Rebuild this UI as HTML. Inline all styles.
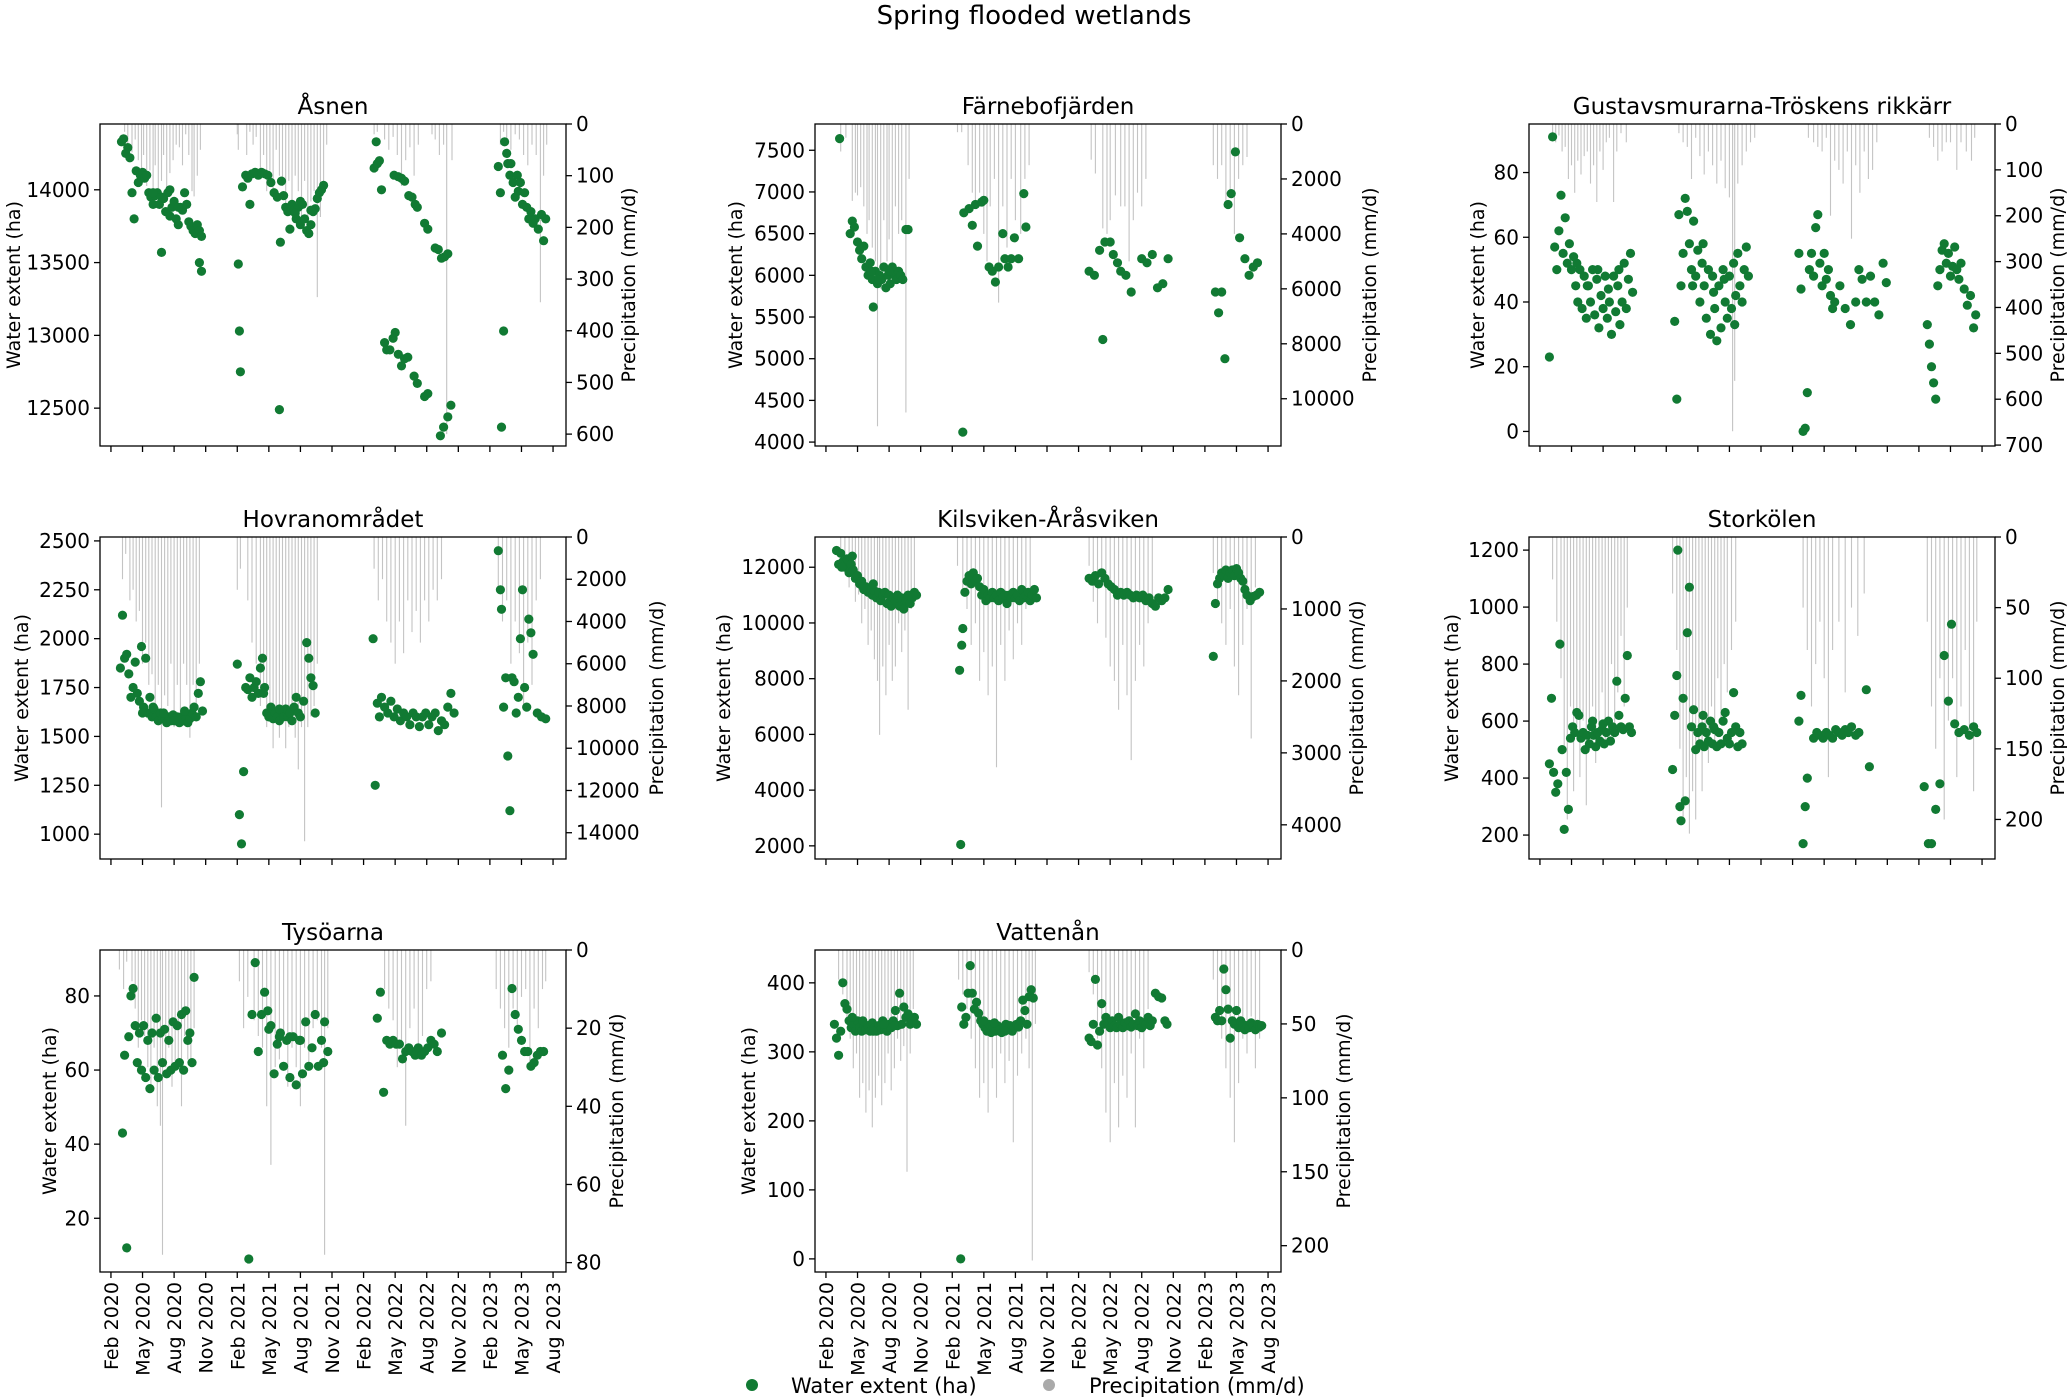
<!DOCTYPE html>
<html><head><meta charset="utf-8"><title>Spring flooded wetlands</title>
<style>
html,body{margin:0;padding:0;background:#fff;}
svg{display:block;font-family:"DejaVu Sans","Liberation Sans",sans-serif;}
</style></head>
<body>
<svg id="chart" width="2067" height="1397" viewBox="0 0 2067 1397" xmlns="http://www.w3.org/2000/svg">
<text x="1034" y="24" text-anchor="middle" font-size="26">Spring flooded wetlands</text>
<g>
<circle cx="752" cy="1385" r="6" fill="#117a33"/>
<text x="791" y="1393" font-size="21">Water extent (ha)</text>
<circle cx="1049" cy="1385" r="6" fill="#aaaaaa"/>
<text x="1089" y="1393" font-size="21">Precipitation (mm/d)</text>
</g>
</svg>
<script>
// ---- date axis (months since Jan 2020) ----
const dateTickMonths = [1,4,7,10,13,16,19,22,25,28,31,34,37,40,43];
const dateTickLabels = ["Feb 2020","May 2020","Aug 2020","Nov 2020","Feb 2021","May 2021","Aug 2021","Nov 2021","Feb 2022","May 2022","Aug 2022","Nov 2022","Feb 2023","May 2023","Aug 2023"];
const monthDomain = [-0.04, 44.23];

// ---- Åsnen ----
const asnenExtent = [[2.0,14330],[2.2,14350],[2.4,14250],[2.6,14290],[2.8,14220],[3.0,13980],[3.2,13800],[3.4,14130],[3.6,14050],[3.8,14100],[4.0,14120],[4.2,14080],[4.4,14100],[4.6,13980],[4.8,13950],[5.0,13900],[5.2,13960],[5.4,13980],[5.6,13900],[5.8,13570],[6.0,13940],[6.2,13850],[6.4,13980],[6.6,14000],[6.8,13880],[7.0,13920],[7.2,13800],[7.4,13760],[7.6,13880],[7.8,13860],[8.0,13980],[8.2,13900],[8.4,13780],[8.6,13750],[8.8,13720],[9.0,13700],[9.2,13760],[9.4,13720],[9.6,13680],[9.4,13500],[9.6,13440],[5.0,13980],[5.8,13950],[6.6,13820],[7.4,13880],
[13.1,13490],[13.2,13030],[13.3,12750],[13.5,14020],[13.8,14100],[14.0,14080],[14.2,13900],[14.4,14110],[14.7,14120],[15.0,14100],[15.3,14120],[15.6,14110],[15.9,14100],[16.2,14050],[16.5,13980],[16.8,13950],[17.0,12490],[17.1,13640],[17.2,14060],[17.4,13960],[17.6,13880],[17.8,13850],[18.0,13730],[18.2,13900],[18.4,13860],[18.6,13800],[18.8,13880],[19.0,13760],[19.2,13900],[19.4,13800],[19.6,13720],[19.8,13700],[20.0,13760],[20.2,13850],[20.4,13870],[20.6,13940],[20.8,13980],[21.0,14000],[21.2,14030],[19.0,13920],[20.0,13860],[18.5,13840],
[26.0,14150],[26.2,14330],[26.3,14180],[26.5,14200],[26.7,14000],[27.0,12950],[27.2,12900],[27.5,12900],[27.8,12980],[28.0,13020],[27.9,14100],[28.3,14090],[28.6,14080],[28.9,14060],[28.3,12870],[28.6,12790],[28.9,12840],[29.2,12850],[29.3,13960],[29.6,13950],[29.9,13900],[30.1,13880],[29.8,12720],[30.1,12670],[30.8,13770],[31.1,13730],[30.8,12580],[31.1,12600],[31.8,13600],[32.1,13590],[32.4,13530],[32.7,13540],[33.0,13560],[32.3,12310],[32.6,12370],[33.0,12440],[33.3,12520],
[37.8,14160],[38.0,13980],[38.1,12370],[38.3,13030],[38.4,14330],[38.6,14250],[38.7,14180],[38.9,14100],[39.0,14180],[39.2,14050],[39.4,13950],[39.6,14100],[39.7,13990],[39.9,14050],[40.1,13900],[40.3,13980],[40.5,13880],[40.7,13800],[40.9,13850],[41.1,13770],[41.3,13800],[41.6,13730],[41.9,13830],[42.1,13650],[42.3,13800]];
const asnenPrecip = [[2.3,15],[2.6,40],[3.0,55],[3.3,30],[3.6,70],[3.9,100],[4.1,60],[4.4,120],[4.7,90],[5.0,130],[5.2,80],[5.5,140],[5.8,110],[6.0,60],[6.3,125],[6.6,95],[6.9,70],[7.2,40],[7.5,45],[7.8,80],[8.1,20],[8.4,60],[8.7,130],[8.9,140],[9.2,100],[9.5,50],
[13.0,20],[13.1,50],[13.9,60],[14.2,15],[14.5,40],[14.8,25],[15.2,100],[15.5,60],[15.8,130],[16.1,90],[16.4,140],[16.7,50],[17.0,100],[17.3,120],[17.6,170],[17.9,110],[18.2,150],[18.5,100],[18.8,130],[19.1,180],[19.4,110],[19.7,200],[20.0,150],[20.3,130],[20.6,335],[20.9,180],[21.2,130],[21.5,40],
[26.0,20],[26.3,15],[27.0,30],[27.4,50],[27.8,25],[28.2,60],[28.6,120],[29.0,70],[29.4,45],[29.8,100],[30.2,40],[31.5,20],[31.8,30],[32.2,60],[32.6,40],[32.9,600],[33.4,70],
[38.0,40],[38.3,15],[38.6,30],[39.0,50],[39.4,20],[39.8,30],[40.2,60],[40.6,80],[41.0,40],[41.4,60],[41.8,345],[42.1,100],[42.4,40]];
const asnenLeftTicks = [12500,13000,13500,14000];
const asnenRightTicks = [0,100,200,300,400,500,600];

// ---- Färnebofjärden ----
const farnExtent = [[2.3,7640],[3.3,6500],[3.5,6650],[3.7,6580],[4.0,6400],[4.2,6300],[4.4,6200],[4.6,6350],[4.8,6100],[5.0,6000],[5.2,6150],[5.4,5950],[5.5,5620],[5.7,6050],[5.9,5900],[6.1,6000],[6.3,5950],[6.5,6100],[6.7,5850],[6.9,6000],[7.1,5900],[7.3,6100],[7.5,6000],[7.7,5950],[7.9,6050],[8.1,6000],[8.3,5950],[8.6,6550],[8.8,6550],[5.3,6050],[6.0,5950],[7.0,6050],
[14.0,4120],[14.1,6750],[14.6,6800],[14.9,6600],[15.2,6850],[15.4,6350],[15.8,6880],[16.0,6900],[16.5,6100],[16.8,6050],[17.1,5920],[17.4,6100],[17.8,6500],[18.0,6200],[18.3,6100],[18.6,6200],[18.9,6450],[19.3,6200],[19.8,6980],[20.0,6580],
[26.0,6050],[26.5,6000],[27.0,6300],[27.3,5230],[27.5,6400],[28.0,6400],[28.3,6250],[28.7,6150],[29.0,6050],[29.5,6000],[30.0,5800],[31.0,6200],[31.5,6150],[32.0,6250],[32.5,5850],[33.0,5900],[33.5,6200],
[38.0,5800],[38.3,5550],[38.6,5800],[38.9,5000],[39.2,6850],[39.5,6980],[39.9,7480],[40.3,6450],[40.8,6200],[41.2,6000],[41.6,6100],[42.0,6150]];
const farnPrecip = [[2.4,1000],[2.9,500],[3.5,2800],[3.8,2500],[4.0,2600],[4.3,2300],[4.6,3000],[4.9,4000],[5.1,3500],[5.4,4500],[5.7,5000],[5.9,11000],[6.2,6000],[6.5,3500],[6.8,5000],[7.0,4200],[7.3,5500],[7.6,3000],[7.9,4000],[8.2,3500],[8.6,10500],[8.9,2000],
[13.5,300],[13.9,300],[14.5,1500],[14.9,2500],[15.2,3000],[15.6,2500],[16.0,4000],[16.3,5000],[16.6,3000],[17.0,2000],[17.4,6500],[17.8,3000],[18.2,4500],[18.6,2000],[19.0,3500],[19.5,4000],[19.9,2000],[20.3,1500],
[26.2,1300],[26.6,1800],[27.3,3800],[27.7,4000],[28.0,3500],[28.5,2600],[29.0,3000],[29.4,3000],[29.8,5000],[30.2,3500],[30.6,2500],[31.0,3000],[31.4,2000],
[37.8,1500],[38.2,2000],[38.6,1500],[39.0,3000],[39.4,2500],[39.8,4000],[40.2,2000],[40.6,1500],[41.0,1200]];
const farnLeftTicks = [4000,4500,5000,5500,6000,6500,7000,7500];
const farnRightTicks = [0,2000,4000,6000,8000,10000];

// ---- Gustavsmurarna-Tröskens rikkärr ----
const gustExtent = [[1.9,23],[2.2,91],[2.4,57],[2.6,50],[2.8,62],[3.0,73],[3.2,55],[3.4,66],[3.6,52],[3.8,58],[4.0,50],[4.2,54],[4.4,45],[4.6,40],[4.8,50],[5.0,38],[5.2,48],[5.4,35],[5.6,45],[5.8,40],[6.0,50],[6.2,36],[6.4,47],[6.6,32],[6.8,42],[7.0,38],[7.2,48],[7.4,35],[7.6,40],[7.8,30],[8.0,48],[8.2,37],[8.4,45],[8.6,33],[8.8,40],[9.0,52],[9.2,38],[9.4,47],[9.6,55],[9.8,43],[4.5,52],[5.5,45],[6.5,50],[7.5,44],[8.5,50],
[13.8,34],[14.0,10],[14.2,67],[14.4,45],[14.6,55],[14.8,72],[15.0,68],[15.2,58],[15.4,50],[15.6,65],[15.8,48],[16.0,56],[16.2,40],[16.4,52],[16.6,45],[16.8,35],[17.0,50],[17.2,30],[17.4,48],[17.6,38],[17.8,28],[18.0,45],[18.2,32],[18.4,50],[18.6,40],[18.8,35],[19.0,48],[19.2,38],[19.4,52],[19.6,42],[19.8,55],[20.0,45],[20.2,40],[20.4,50],[20.6,57],[20.8,48],[15.5,45],[16.5,58],[17.5,43],[18.5,47],[19.5,33],
[25.6,55],[25.8,44],[26.0,0],[26.2,1],[26.4,12],[26.6,50],[26.8,55],[27.0,48],[27.2,63],[27.4,67],[27.6,52],[27.8,45],[28.0,55],[28.2,47],[28.4,50],[28.6,42],[28.8,38],[29.0,40],[29.5,45],[30.0,38],[30.5,33],[31.0,40],[31.3,50],[31.6,47],[32.0,40],[32.4,48],[32.8,40],[33.2,36],[33.6,52],[33.9,46],
[37.8,33],[38.0,27],[38.2,20],[38.4,15],[38.6,10],[38.8,45],[39.0,50],[39.2,56],[39.4,58],[39.6,52],[39.8,55],[40.0,48],[40.2,51],[40.4,57],[40.6,50],[40.8,47],[41.0,52],[41.3,44],[41.6,39],[41.9,42],[42.2,32],[42.4,36]];
const gustPrecip = [[2.2,20],[2.5,40],[2.8,25],[3.1,60],[3.4,50],[3.7,120],[4.0,90],[4.3,150],[4.6,80],[4.9,110],[5.2,70],[5.5,60],[5.8,130],[6.1,90],[6.4,170],[6.7,60],[7.0,100],[7.3,40],[7.6,30],[8.0,170],[8.3,60],[8.7,20],[9.2,40],
[14.2,20],[14.6,40],[15.0,50],[15.4,120],[15.8,30],[16.2,70],[16.6,110],[17.0,60],[17.4,90],[17.8,130],[18.2,80],[18.6,140],[19.0,160],[19.3,670],[19.5,560],[19.8,130],[20.2,90],[20.6,60],[21.0,40],[21.4,30],
[26.5,30],[27.0,40],[27.4,50],[27.8,60],[28.2,30],[28.6,200],[29.0,80],[29.4,100],[29.8,130],[30.2,60],[30.6,250],[31.0,90],[31.4,150],[31.8,60],[32.2,120],[32.6,100],[33.0,40],
[38.0,30],[38.4,50],[38.8,80],[39.2,60],[39.6,40],[40.0,40],[40.6,100],[41.0,40],[41.5,60],[42.0,80],[42.3,30]];
const gustLeftTicks = [0,20,40,60,80];
const gustRightTicks = [0,100,200,300,400,500,600,700];

// ---- Hovranområdet ----
const hovExtent = [[1.9,1850],[2.1,2120],[2.3,1900],[2.5,1920],[2.7,1820],[2.9,1700],[3.1,1750],[3.3,1880],[3.5,1720],[3.7,1680],[3.9,1960],[4.1,1650],[4.3,1900],[4.5,1620],[4.7,1700],[4.9,1600],[5.1,1640],[5.3,1600],[5.5,1580],[5.7,1620],[5.9,1590],[6.1,1600],[6.3,1570],[6.5,1600],[6.7,1580],[6.9,1610],[7.1,1580],[7.3,1600],[7.5,1570],[7.7,1600],[7.9,1580],[8.1,1600],[8.3,1570],[8.5,1590],[8.7,1620],[8.9,1650],[9.1,1600],[9.3,1720],[9.5,1780],[9.7,1630],[4.0,1620],[5.0,1650],[6.0,1620],[7.0,1580],[8.0,1630],
[13.0,1870],[13.2,1100],[13.4,950],[13.6,1320],[13.8,1750],[14.0,1740],[14.2,1800],[14.4,1700],[14.6,1750],[14.8,1780],[15.0,1720],[15.2,1850],[15.4,1900],[15.6,1750],[15.8,1620],[16.0,1600],[16.2,1650],[16.4,1590],[16.6,1620],[16.8,1600],[17.0,1580],[17.2,1630],[17.4,1600],[17.6,1640],[17.8,1600],[18.0,1620],[18.2,1580],[18.4,1650],[18.6,1700],[18.8,1620],[19.0,1600],[19.3,1680],[19.6,1980],[19.8,1900],[20.0,1800],[20.2,1760],[20.4,1620],[15.5,1720],[17.0,1640],
[25.9,2000],[26.1,1250],[26.3,1670],[26.5,1600],[26.7,1700],[27.0,1650],[27.3,1620],[27.6,1680],[27.9,1600],[28.2,1640],[28.5,1580],[28.8,1620],[29.1,1600],[29.4,1560],[29.7,1620],[30.0,1600],[30.3,1550],[30.6,1600],[30.9,1620],[31.2,1560],[31.5,1600],[31.8,1620],[32.1,1530],[32.4,1580],[32.7,1560],[33.0,1650],[33.3,1720],[33.6,1620],
[37.8,2450],[38.0,2250],[38.1,2150],[38.3,1650],[38.5,1800],[38.7,1400],[38.9,1120],[39.1,1800],[39.3,1780],[39.5,1620],[39.7,1700],[39.9,2000],[40.1,2250],[40.3,1750],[40.5,1650],[40.7,2100],[40.9,2030],[41.1,1920],[41.5,1620],[41.9,1600],[42.3,1590]];
const hovPrecip = [[2.1,2000],[2.4,800],[2.8,3000],[3.1,2500],[3.4,4000],[3.7,3500],[4.0,6000],[4.3,5000],[4.6,7000],[4.9,6500],[5.2,8000],[5.5,7000],[5.8,12800],[6.1,7500],[6.4,8000],[6.7,6000],[7.0,9000],[7.3,7000],[7.6,8500],[7.9,6000],[8.2,7000],[8.5,9500],[8.8,7000],[9.1,8000],[9.4,6000],
[13.0,2500],[13.3,1500],[14.0,3000],[14.4,5000],[14.8,6000],[15.2,8000],[15.5,7000],[15.8,9000],[16.1,8000],[16.4,10000],[16.7,8500],[17.0,9500],[17.3,8000],[17.6,10000],[17.9,9000],[18.2,8000],[18.5,9500],[18.8,11000],[19.1,9000],[19.4,14400],[19.7,9000],[20.0,8500],[20.3,8000],[20.6,6000],
[26.0,1500],[26.4,3000],[26.8,2000],[27.2,4000],[27.6,5000],[28.0,6000],[28.4,4000],[28.8,5500],[29.2,3000],[29.6,4500],[30.0,3500],[30.4,5000],[30.8,3000],[31.2,4000],[31.6,2500],[32.0,3000],[32.4,2000],
[37.8,2500],[38.2,4000],[38.6,3000],[39.0,6000],[39.4,4000],[39.8,5500],[40.2,8000],[40.6,5000],[41.0,7000],[41.4,3000],[41.8,2000]];
const hovLeftTicks = [1000,1250,1500,1750,2000,2250,2500];
const hovRightTicks = [0,2000,4000,6000,8000,10000,12000,14000];

// ---- Kilsviken-Åråsviken ----
const kilExtent = [[2.0,12600],[2.2,12100],[2.4,12500],[2.6,12200],[2.8,12000],[3.0,12300],[3.2,11800],[3.4,12100],[3.6,11900],[3.8,11600],[4.0,11700],[4.2,11400],[4.4,11500],[4.6,11200],[4.8,11300],[5.0,11100],[5.2,11200],[5.4,11000],[5.6,11150],[5.8,10900],[6.0,11100],[6.2,10800],[6.4,11000],[6.6,11100],[6.8,10700],[7.0,11000],[7.2,10600],[7.4,10900],[7.6,10800],[7.8,11000],[8.0,10600],[8.2,10900],[8.4,10500],[8.6,10800],[8.8,11000],[9.0,10700],[9.2,10900],[9.4,11100],[9.6,11000],[2.5,12000],[3.5,12400],[4.5,11300],[5.5,11400],
[13.7,8300],[13.8,2050],[13.9,9200],[14.0,9800],[14.2,11100],[14.4,11500],[14.6,11700],[14.8,11400],[15.0,11800],[15.2,11500],[15.4,11600],[15.6,11300],[15.8,11000],[16.0,11200],[16.2,10800],[16.4,11000],[16.6,10900],[16.8,11100],[17.0,10900],[17.2,11000],[17.4,10800],[17.6,11100],[17.8,10900],[18.0,11000],[18.2,10700],[18.4,11000],[18.6,10900],[18.8,11100],[19.0,10900],[19.2,11000],[19.4,10800],[19.6,11200],[19.8,10900],[20.0,11000],[20.2,11100],[20.4,10800],[20.6,11000],[20.8,11200],[21.0,10900],
[26.0,11600],[26.3,11500],[26.6,11700],[26.9,11400],[27.2,11800],[27.5,11600],[27.8,11400],[28.1,11300],[28.4,11200],[28.7,11000],[29.0,11100],[29.3,11000],[29.6,11100],[29.9,11000],[30.2,10900],[30.5,11000],[30.8,10900],[31.1,11000],[31.4,10800],[31.7,10900],[32.0,10700],[32.3,10600],[32.6,10900],[32.9,10800],[33.2,10900],[33.5,11200],
[37.8,8800],[38.0,10700],[38.2,11400],[38.4,11600],[38.6,11800],[38.8,11700],[39.0,11900],[39.2,11600],[39.4,11800],[39.6,11900],[39.8,11700],[40.0,11950],[40.2,11800],[40.4,11600],[40.6,11500],[40.8,11200],[41.0,11000],[41.3,10800],[41.6,10950],[41.9,11000],[42.2,11100]];
const kilPrecip = [[2.4,300],[2.8,500],[3.2,700],[3.5,600],[3.8,900],[4.1,800],[4.4,1200],[4.7,1000],[5.0,1500],[5.3,1300],[5.6,1700],[5.9,2000],[6.1,2750],[6.4,1800],[6.7,2200],[7.0,1500],[7.3,2000],[7.6,1800],[7.9,1200],[8.2,1600],[8.5,1300],[8.8,2400],[9.1,1000],[9.4,800],
[13.5,400],[14.0,800],[14.4,1000],[14.8,1500],[15.2,1200],[15.6,2000],[16.0,1600],[16.4,2200],[16.8,1800],[17.2,3200],[17.6,1500],[18.0,2000],[18.4,1300],[18.8,1700],[19.2,1200],[19.6,1500],[20.0,1000],[20.4,800],
[26.0,400],[26.4,900],[26.8,1200],[27.2,700],[27.6,1400],[28.0,1800],[28.4,2000],[28.8,2400],[29.2,1500],[29.6,2200],[30.0,3100],[30.4,2000],[30.8,1500],[31.2,1800],[31.6,1200],[32.0,800],
[37.8,500],[38.2,900],[38.6,1200],[39.0,1500],[39.4,1000],[39.8,1800],[40.2,2200],[40.6,1500],[41.0,1000],[41.4,2800],[41.8,700]];
const kilLeftTicks = [2000,4000,6000,8000,10000,12000];
const kilRightTicks = [0,1000,2000,3000,4000];

// ---- Storkölen ----
const storExtent = [[1.9,450],[2.1,680],[2.3,420],[2.5,350],[2.7,380],[2.9,870],[3.1,500],[3.3,220],[3.5,420],[3.7,290],[3.9,540],[4.1,580],[4.3,560],[4.5,630],[4.7,620],[4.9,540],[5.1,560],[5.3,500],[5.5,550],[5.7,520],[5.9,580],[6.1,550],[6.3,510],[6.5,560],[6.7,530],[6.9,570],[7.1,520],[7.3,560],[7.5,600],[7.7,530],[7.9,580],[8.1,560],[8.3,740],[8.5,620],[8.7,580],[8.9,570],[9.1,680],[9.3,830],[9.5,580],[9.7,560],[6.0,600],[7.0,590],
[13.6,430],[13.8,620],[14.0,760],[14.1,1200],[14.3,300],[14.4,250],[14.6,680],[14.8,320],[15.0,910],[15.2,1070],[15.4,580],[15.6,640],[15.8,500],[16.0,560],[16.2,520],[16.4,580],[16.6,510],[16.8,560],[17.0,530],[17.2,600],[17.4,520],[17.6,570],[17.8,510],[18.0,560],[18.2,520],[18.4,600],[18.6,630],[18.8,540],[19.0,520],[19.2,560],[19.4,700],[19.6,580],[19.8,510],[20.0,560],[20.2,520],[16.5,620],[17.5,580],
[25.6,600],[25.8,690],[26.0,170],[26.2,300],[26.4,400],[27.0,540],[27.3,560],[27.6,550],[27.9,540],[28.2,560],[28.5,550],[28.8,540],[29.1,570],[29.4,560],[29.7,550],[30.0,570],[30.3,560],[30.6,580],[31.0,550],[31.3,560],[32.0,710],[32.3,440],
[37.5,370],[37.9,170],[38.2,170],[38.6,290],[39.0,380],[39.4,830],[39.8,670],[40.1,940],[40.4,590],[40.8,560],[41.3,570],[41.8,550],[42.2,580],[42.5,560]];
const storPrecip = [[2.2,30],[2.6,60],[3.0,100],[3.3,150],[3.6,200],[3.9,120],[4.2,180],[4.5,140],[4.8,170],[5.1,130],[5.4,190],[5.7,150],[6.0,120],[6.3,160],[6.6,140],[6.9,110],[7.2,150],[7.5,130],[7.8,90],[8.1,140],[8.4,110],[8.7,70],[9.0,120],[9.3,50],
[13.6,40],[14.0,80],[14.3,150],[14.6,200],[14.9,170],[15.2,210],[15.5,180],[15.8,200],[16.1,150],[16.4,180],[16.7,140],[17.0,160],[17.3,120],[17.6,150],[17.9,100],[18.2,130],[18.5,90],[18.8,110],[19.2,80],[19.6,60],
[26.0,50],[26.4,80],[26.8,120],[27.2,90],[27.6,60],[28.0,100],[28.4,170],[28.8,80],[29.4,60],[30.0,110],[30.6,50],[31.2,70],[31.8,40],
[37.8,60],[38.2,120],[38.6,150],[39.0,100],[39.4,200],[39.8,130],[40.2,100],[40.6,170],[41.0,120],[41.4,80],[41.8,140],[42.2,180],[42.5,60]];
const storLeftTicks = [200,400,600,800,1000,1200];
const storRightTicks = [0,50,100,150,200];

// ---- Tysöarna ----
const tysExtent = [[2.1,43],[2.3,64],[2.5,12],[2.7,69],[2.9,80],[3.1,82],[3.3,72],[3.5,62],[3.7,70],[3.9,60],[4.1,72],[4.3,58],[4.5,68],[4.7,55],[4.9,70],[5.1,60],[5.3,74],[5.5,58],[5.7,70],[5.9,62],[6.1,71],[6.3,59],[6.5,68],[6.7,60],[6.9,73],[7.1,61],[7.3,72],[7.5,62],[7.7,75],[7.9,60],[8.1,76],[8.3,68],[8.5,70],[8.7,62],[8.9,85],
[14.1,9],[14.4,75],[14.7,89],[15.0,65],[15.3,75],[15.6,81],[15.9,76],[16.2,72],[16.5,59],[16.8,67],[17.1,70],[17.4,61],[17.7,68],[18.0,58],[18.3,69],[18.6,56],[18.9,68],[19.2,59],[19.5,73],[19.8,61],[20.1,66],[20.4,75],[20.7,61],[21.0,68],[21.3,73],[21.6,65],[21.2,62],[16.0,71],[17.0,69],[18.0,69],[19.0,68],
[26.3,74],[26.6,81],[26.9,54],[27.2,68],[27.5,67],[27.8,68],[28.1,67],[28.4,67],[28.7,63],[29.0,65],[29.3,66],[29.6,65],[29.9,64],[30.2,66],[30.5,64],[30.8,65],[31.1,66],[31.4,68],[31.7,67],[32.0,65],[32.4,70],
[38.2,64],[38.5,55],[38.8,60],[39.1,82],[39.4,75],[39.7,71],[40.0,68],[40.3,65],[40.6,65],[40.9,61],[41.2,62],[41.5,64],[41.8,65],[42.1,65]];
const tysPrecip = [[1.8,5],[2.2,10],[2.5,3],[3.0,8],[3.3,15],[3.6,25],[3.9,18],[4.2,22],[4.5,30],[4.8,35],[5.1,25],[5.4,40],[5.7,45],[5.9,78],[6.2,30],[6.5,25],[6.8,35],[7.1,30],[7.4,28],[7.7,40],[8.0,22],[8.3,28],[8.6,30],[8.9,20],
[13.2,8],[13.6,20],[14.0,12],[14.6,18],[15.0,22],[15.4,25],[15.8,40],[16.2,55],[16.6,30],[17.0,28],[17.4,22],[17.8,35],[18.2,25],[18.6,30],[19.0,40],[19.4,25],[19.8,30],[20.2,20],[20.6,18],[21.0,25],[21.3,78],[21.6,20],
[27.0,10],[27.4,15],[27.8,18],[28.2,30],[28.6,25],[29.0,45],[29.4,20],[29.8,15],[30.2,28],[30.6,22],[31.0,10],[31.4,8],
[37.6,10],[38.0,15],[38.4,20],[38.8,25],[39.2,15],[39.6,20],[40.0,12],[40.4,10],[40.8,30],[41.2,15],[41.6,20],[42.0,10],[42.3,8]];
const tysLeftTicks = [20,40,60,80];
const tysRightTicks = [0,20,40,60,80];

// ---- Vattenån ----
const vatExtent = [[1.8,340],[2.0,320],[2.2,295],[2.4,330],[2.6,400],[2.8,370],[3.0,362],[3.2,345],[3.4,335],[3.6,340],[3.8,330],[4.0,345],[4.2,335],[4.4,330],[4.6,340],[4.8,332],[5.0,338],[5.2,330],[5.4,342],[5.6,335],[5.8,330],[6.0,338],[6.2,332],[6.4,345],[6.6,335],[6.8,330],[7.0,340],[7.2,335],[7.4,345],[7.6,360],[7.8,338],[8.0,385],[8.2,340],[8.4,365],[8.6,350],[8.8,355],[9.0,340],[9.2,345],[9.4,350],[9.6,340],[3.5,350],[4.5,345],[5.5,330],[6.5,340],[7.5,338],
[13.8,0],[13.9,365],[14.1,340],[14.3,350],[14.5,385],[14.7,425],[14.9,385],[15.1,362],[15.3,372],[15.5,356],[15.7,345],[15.9,340],[16.1,335],[16.3,330],[16.5,340],[16.7,328],[16.9,335],[17.1,330],[17.3,338],[17.5,332],[17.7,328],[17.9,335],[18.1,340],[18.3,332],[18.5,338],[18.7,330],[18.9,335],[19.1,340],[19.3,336],[19.5,345],[19.7,375],[19.9,360],[20.1,340],[20.3,380],[20.5,390],[20.7,378],[16.0,345],[17.0,342],[18.0,330],
[26.0,320],[26.2,315],[26.4,340],[26.6,405],[26.8,310],[27.0,330],[27.2,370],[27.4,340],[27.6,350],[27.8,340],[28.0,335],[28.2,345],[28.4,338],[28.6,335],[28.8,350],[29.0,340],[29.2,335],[29.4,342],[29.6,338],[29.8,345],[30.0,336],[30.2,340],[30.4,355],[30.6,338],[30.8,345],[31.0,335],[31.2,342],[31.4,340],[31.6,350],[31.8,338],[32.0,345],[32.3,385],[32.6,380],[32.9,378],[33.2,345],[33.4,340],
[38.0,350],[38.2,345],[38.4,360],[38.6,345],[38.8,420],[39.0,390],[39.2,362],[39.4,320],[39.6,345],[39.8,340],[40.0,360],[40.2,335],[40.4,345],[40.6,340],[40.8,332],[41.0,338],[41.2,335],[41.4,342],[41.6,338],[41.8,332],[42.0,340],[42.2,336],[42.4,338]];
const vatPrecip = [[2.2,20],[2.6,30],[3.0,50],[3.3,60],[3.6,80],[3.9,70],[4.2,100],[4.5,90],[4.8,110],[5.1,95],[5.4,120],[5.7,100],[6.0,85],[6.3,105],[6.6,90],[6.9,70],[7.2,95],[7.5,80],[7.8,60],[8.1,75],[8.4,65],[8.7,150],[9.0,70],[9.3,40],
[13.6,20],[14.0,30],[14.4,40],[14.8,60],[15.2,80],[15.6,100],[16.0,90],[16.4,110],[16.8,80],[17.2,100],[17.6,70],[18.0,90],[18.4,75],[18.8,130],[19.2,85],[19.6,70],[20.0,60],[20.3,80],[20.6,210],[20.9,50],
[26.0,15],[26.4,30],[26.8,60],[27.2,80],[27.6,110],[28.0,130],[28.4,90],[28.8,120],[29.2,85],[29.6,100],[30.0,70],[30.4,120],[30.8,60],[31.2,80],[31.6,40],
[37.8,20],[38.2,40],[38.6,60],[39.0,80],[39.4,100],[39.8,130],[40.2,90],[40.6,60],[41.0,70],[41.4,45],[41.8,80],[42.2,60]];
const vatLeftTicks = [0,100,200,300,400];
const vatRightTicks = [0,50,100,150,200];

// ---- layout (pixels, not data) ----
const panels = [
 {name:"asnen",title:"Åsnen",x:100,y:124,ext:asnenExtent,pr:asnenPrecip,lt:asnenLeftTicks,rt:asnenRightTicks,ld:[12240,14452],rd:[0,623],llx:13,rlx:628,dates:false},
 {name:"farnebofjarden",title:"Färnebofjärden",x:815,y:124,ext:farnExtent,pr:farnPrecip,lt:farnLeftTicks,rt:farnRightTicks,ld:[3953,7815],rd:[0,11720],llx:735,rlx:1369,dates:false},
 {name:"gustavsmurarna",title:"Gustavsmurarna-Tröskens rikkärr",x:1529,y:124,ext:gustExtent,pr:gustPrecip,lt:gustLeftTicks,rt:gustRightTicks,ld:[-4.5,95],rd:[0,702],llx:1477,rlx:2057,dates:false},
 {name:"hovranomradet",title:"Hovranområdet",x:100,y:537,ext:hovExtent,pr:hovPrecip,lt:hovLeftTicks,rt:hovRightTicks,ld:[873,2520],rd:[0,15244],llx:21,rlx:656,dates:false},
 {name:"kilsviken",title:"Kilsviken-Åråsviken",x:815,y:537,ext:kilExtent,pr:kilPrecip,lt:kilLeftTicks,rt:kilRightTicks,ld:[1528,13085],rd:[0,4475],llx:723,rlx:1356,dates:false},
 {name:"storkolen",title:"Storkölen",x:1529,y:537,ext:storExtent,pr:storPrecip,lt:storLeftTicks,rt:storRightTicks,ld:[116,1246],rd:[0,228],llx:1451,rlx:2057,dates:false},
 {name:"tysoarna",title:"Tysöarna",x:100,y:950,ext:tysExtent,pr:tysPrecip,lt:tysLeftTicks,rt:tysRightTicks,ld:[5.5,92.4],rd:[0,82.4],llx:49,rlx:616,dates:true},
 {name:"vattenan",title:"Vattenån",x:815,y:950,ext:vatExtent,pr:vatPrecip,lt:vatLeftTicks,rt:vatRightTicks,ld:[-19,447.6],rd:[0,217.8],llx:748,rlx:1343,dates:true}
];
const PW = 466, PH = 322;
const NS = "http://www.w3.org/2000/svg";
const svg = document.getElementById("chart");
function mk(tag, attrs, parent){ const e=document.createElementNS(NS,tag); for(const k in attrs) e.setAttribute(k,attrs[k]); parent.appendChild(e); return e; }

panels.forEach(p => {
  const g = mk("g",{},svg);
  
  
  const xs = m => p.x + (m - monthDomain[0]) / (monthDomain[1] - monthDomain[0]) * PW;
  const yl = v => p.y + (p.ld[1] - v) / (p.ld[1] - p.ld[0]) * PH;
  const yr = v => p.y + (v - p.rd[0]) / (p.rd[1] - p.rd[0]) * PH;
  const bot = p.y + PH, right = p.x + PW;

  const pg = mk("g",{},g);
  
  
  p.pr.forEach(d => {
    const l = mk("line",{x1:xs(d[0]).toFixed(1),x2:xs(d[0]).toFixed(1),y1:p.y,y2:yr(d[1]).toFixed(1),stroke:"#c4c4c4","stroke-width":1.1},pg);
    
    
  });
  const sg = mk("g",{},g);
  
  
  p.ext.forEach(d => {
    const c = mk("circle",{cx:xs(d[0]).toFixed(1),cy:yl(d[1]).toFixed(1),r:4.6,fill:"#117a33"},sg);
    
    
  });

  const fr = mk("rect",{x:p.x,y:p.y,width:PW,height:PH,fill:"none",stroke:"#000","stroke-width":1.3},g);
  
  

  const t = mk("text",{x:p.x+PW/2,y:p.y-10,"text-anchor":"middle","font-size":23},g);
  t.textContent = p.title;
  
  

  p.lt.forEach(v => {
    const y = yl(v);
    mk("line",{x1:p.x-6,x2:p.x,y1:y,y2:y,stroke:"#000","stroke-width":1.3},g);
    const tl = mk("text",{x:p.x-10,y:y+7,"text-anchor":"end","font-size":20},g);
    tl.textContent = v;
    
    
  });
  p.rt.forEach(v => {
    const y = yr(v);
    mk("line",{x1:right,x2:right+6,y1:y,y2:y,stroke:"#000","stroke-width":1.3},g);
    const tl = mk("text",{x:right+10,y:y+7,"text-anchor":"start","font-size":20},g);
    tl.textContent = v;
    
    
  });
  dateTickMonths.forEach((m,i) => {
    const x = xs(m);
    mk("line",{x1:x,x2:x,y1:bot,y2:bot+6,stroke:"#000","stroke-width":1.3},g);
    if (p.dates) {
      const dl = mk("text",{x:0,y:0,"text-anchor":"end","font-size":19,transform:"translate("+(x+7).toFixed(1)+","+(bot+10)+") rotate(-90)"},g);
      dl.textContent = dateTickLabels[i];
      
      
    }
  });
  const ll = mk("text",{x:0,y:0,"text-anchor":"middle","font-size":19,transform:"translate("+(p.llx+7)+","+(p.y+PH/2)+") rotate(-90)"},g);
  ll.textContent = "Water extent (ha)";
  
  
  const rl = mk("text",{x:0,y:0,"text-anchor":"middle","font-size":19,transform:"translate("+(p.rlx+7)+","+(p.y+PH/2)+") rotate(-90)"},g);
  rl.textContent = "Precipitation (mm/d)";
  
  
});
</script>
</body></html>
